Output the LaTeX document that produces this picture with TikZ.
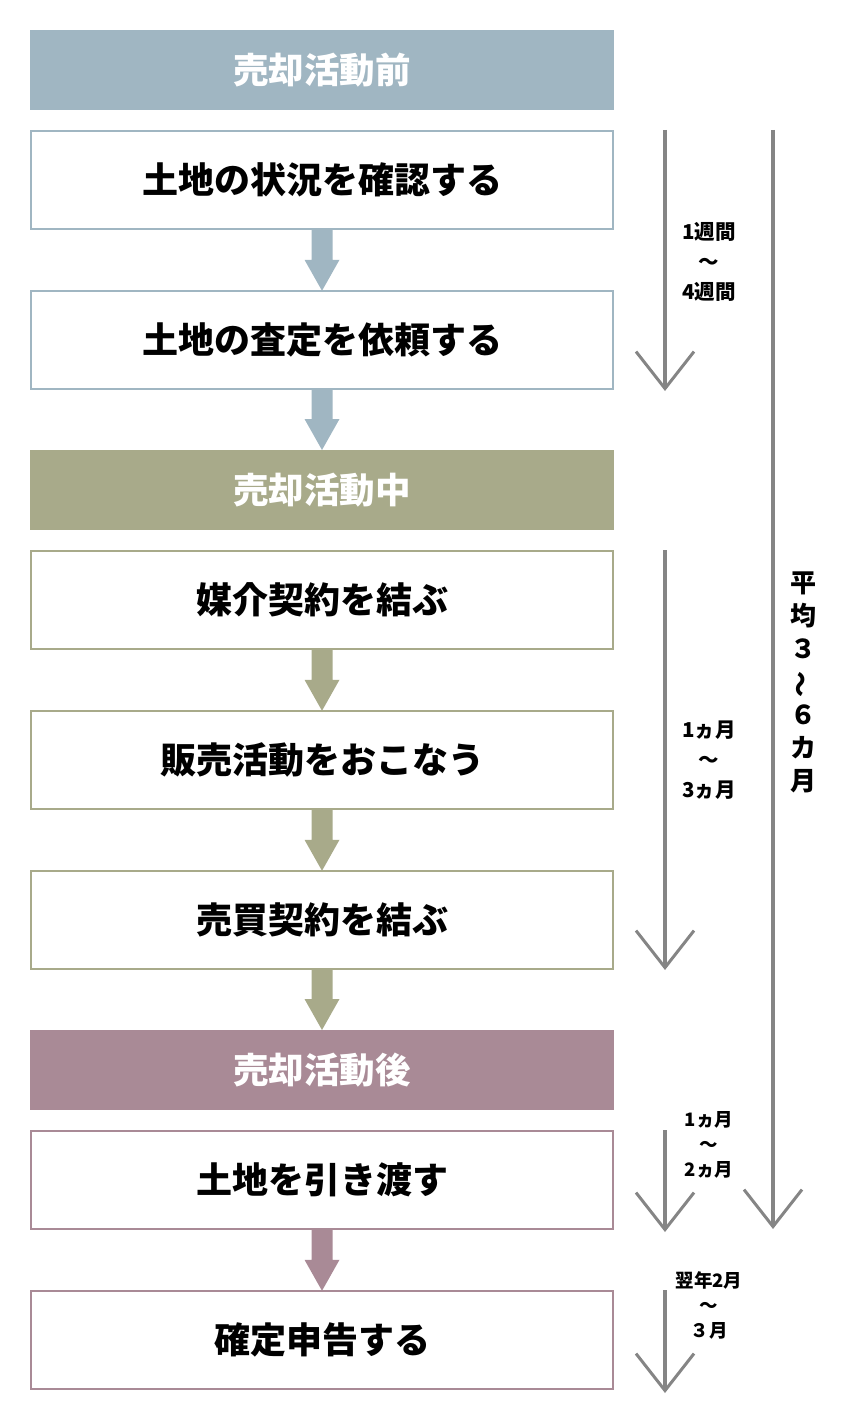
\documentclass[tikz,border=0pt]{standalone}
\usepackage{fontspec}
\setmainfont{Noto Sans CJK JP}
\usepackage{graphicx}
\usetikzlibrary{calc,positioning,arrows.meta}
\definecolor{before}{HTML}{A0B6C2}
\definecolor{during}{HTML}{A8AA8A}
\definecolor{after}{HTML}{A98A96}
\definecolor{timegray}{HTML}{858585}
\def\blockarrow[#1](#2)(#3){\fill[#1] ($(#2.south)+(-10.5,0)$) -- ($(#3.north)+(-10.5,-31)$) -- ($(#3.north)+(-17.5,-31)$) -- (#3.north) -- ($(#3.north)+(17.5,-31)$) -- ($(#3.north)+(10.5,-31)$) -- ($(#2.south)+(10.5,0)$) -- cycle;}

\begin{document}
\begin{tikzpicture}[x=1pt,y=-1pt,
	head/.style={fill=#1,text=white,minimum width=584pt,minimum height=80pt,inner sep=0pt,outer sep=0pt,font=\fontsize{35.5}{38}\selectfont\bfseries},
	stepbox/.style={draw=#1,line width=1.6pt,fill=white,minimum width=582.4pt,minimum height=98.4pt,inner sep=0pt,outer sep=0pt,font=\fontsize{36}{39}\selectfont\bfseries},
	time/.style={line width=4pt,draw=timegray,-{Straight Barb[length=37pt,width=58pt,line width=3pt]}},
	span/.style={align=center,font=\fontsize{20.5}{30}\selectfont\bfseries}]
	%%%%% START %%%%%
	\useasboundingbox (0,0) rectangle (850,1420);
	
	\node[head=before] (pre) at (322,70) {売却活動前};
	\node[stepbox=before,below=20.8pt of pre] (check) {土地の状況を確認する};
	\node[stepbox=before,below=61.6pt of check] (assess) {土地の査定を依頼する};
	
	\node[head=during,below=60.8pt of assess] (mid) {売却活動中};
	\node[stepbox=during,below=20.8pt of mid] (agency) {媒介契約を結ぶ};
	\node[stepbox=during,below=61.6pt of agency] (sales) {販売活動をおこなう};
	\node[stepbox=during,below=61.6pt of sales] (contract) {売買契約を結ぶ};
	
	\node[head=after,below=60.8pt of contract] (post) {売却活動後};
	\node[stepbox=after,below=20.8pt of post] (handover) {土地を引き渡す};
	\node[stepbox=after,below=61.6pt of handover] (tax) {確定申告する};
	
	\blockarrow[before](check)(assess)
	\blockarrow[before](assess)(mid)
	\blockarrow[during](agency)(sales)
	\blockarrow[during](sales)(contract)
	\blockarrow[during](contract)(post)
	\blockarrow[after](handover)(tax)
	
	% time spans
	\coordinate (t1s) at (665,130);
	\coordinate (t1e) at (665,391);
	\coordinate (t2s) at (665,550);
	\coordinate (t2e) at (665,970);
	\coordinate (t3s) at (665,1130);
	\coordinate (t3e) at (665,1232);
	\coordinate (t4s) at (665,1290);
	\coordinate (t4e) at (665,1393);
	\coordinate (alls) at (773,130);
	\coordinate (alle) at (773,1229);
	
	\draw[time] (t1s) -- (t1e);
	\draw[time] (t2s) -- (t2e);
	\draw[time] (t3s) -- (t3e);
	\draw[time] (t4s) -- (t4e);
	\draw[time] (alls) -- (alle);
	
	\node[span] (w14) at (709,262) {1週間\\〜\\4週間};
	\node[span] (m13) at (709,760) {1ヵ月\\〜\\3ヵ月};
	\node[span,font=\fontsize{18.5}{25}\selectfont\bfseries] (m12) at (709,1145) {1ヵ月\\〜\\2ヵ月};
	\node[span,font=\fontsize{18.5}{25}\selectfont\bfseries] (feb) at (709,1305) {翌年2月\\〜\\３月};
	
	\node[align=center,font=\fontsize{26}{33}\selectfont\bfseries] (avg) at (803,682) {平\\均\\３\\\rotatebox[origin=c]{90}{〜}\\６\\カ\\月};
	%%%%% END %%%%%
\end{tikzpicture}
\end{document}
